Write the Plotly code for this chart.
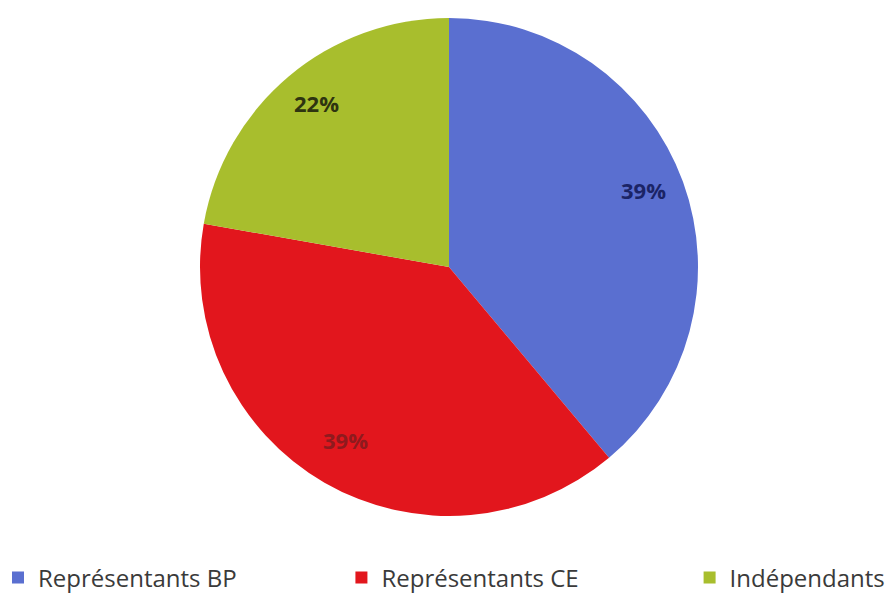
import numpy as np
import plotly.graph_objects as go

labels = ["Représentants BP", "Représentants CE", "Indépendants"]
values = [7, 7, 4]
slice_colors = ["#5A6FD0", "#E2161D", "#A8BE2D"]
label_colors = ["#1B2466", "#8E1A1E", "#2E3410"]

W, H = 894, 594
MB = 60                      # bottom margin that holds the legend
PW, PH = W, H - MB           # plot area size
cx, cy, R = 441, 259, 249    # pie centre / radius in figure pixels

dom_x = [(cx - R) / PW, (cx + R) / PW]
dom_y = [(PH - cy - R) / PH, (PH - cy + R) / PH]

# legend entries are spaced out with non-breaking spaces, as in the reference
pads = [16, 17, 0]
legend_names = [l + "\u00a0" * p for l, p in zip(labels, pads)]

fig = go.Figure(go.Pie(
    labels=legend_names, values=values, sort=False, direction="clockwise", rotation=0,
    marker=dict(colors=slice_colors, line=dict(width=0)),
    textinfo="none", hoverinfo="label+percent",
    domain=dict(x=dom_x, y=dom_y),
))

total = sum(values)
cum = 0
for v, col in zip(values, label_colors):
    mid = (cum + v / 2) / total * 2 * np.pi
    cum += v
    r = 0.83 * R
    px = cx + r * np.sin(mid)
    py = cy - r * np.cos(mid)
    fig.add_annotation(x=px / PW, y=1 - py / PH, xref="paper", yref="paper",
                       xanchor="center", yanchor="middle", yshift=6,
                       text=f"<b>{round(v / total * 100)}%</b>", showarrow=False,
                       font=dict(family="Open Sans", size=22, color=col))

fig.update_layout(
    width=W, height=H, margin=dict(l=0, r=0, t=0, b=MB, autoexpand=False),
    paper_bgcolor="white", plot_bgcolor="white",
    legend=dict(orientation="h", x=-10 / PW, xanchor="left", y=-(570 - PH) / PH,
                yanchor="middle",
                font=dict(family="Open Sans", size=24, color="#3a3a3a"),
                itemwidth=30, traceorder="normal"),
)
fig.write_html("out.html")
